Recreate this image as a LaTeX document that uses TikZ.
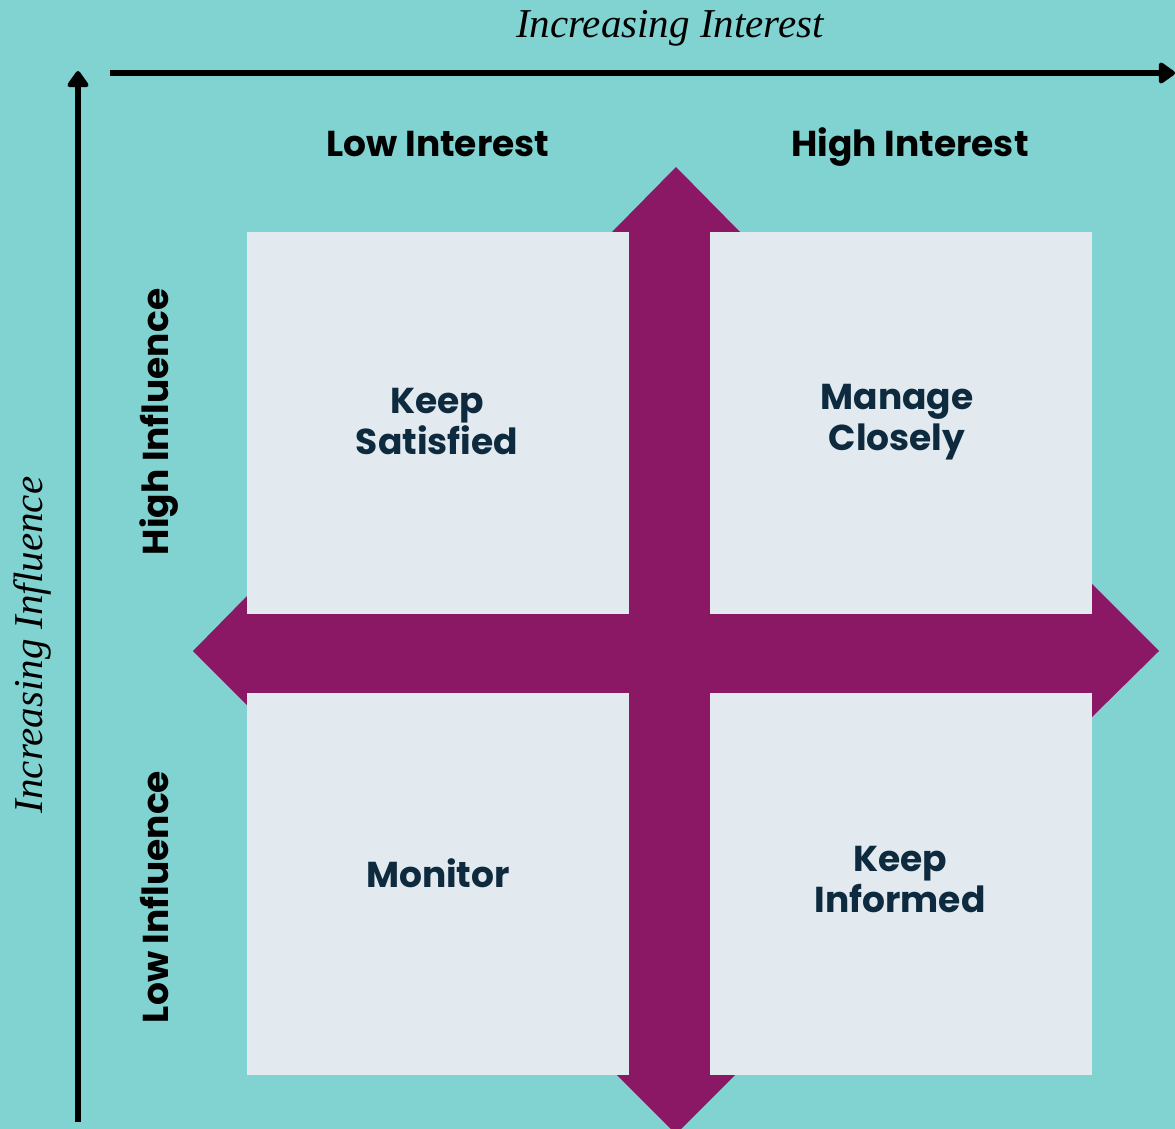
\documentclass[tikz,border=0pt]{standalone}
\usepackage{fontspec}
\usetikzlibrary{arrows.meta,positioning}
\newfontfamily\popfont{Poppins}
\newfontfamily\axisfont{Liberation Serif}
\definecolor{bgteal}{HTML}{81D3D2}
\definecolor{boxgrey}{HTML}{E2E9EF}
\definecolor{crossplum}{HTML}{8B1864}
\definecolor{inknavy}{HTML}{0E2A3F}

\begin{document}
\begin{tikzpicture}[x=1pt,y=-1pt,
    axis/.style={line width=6pt,-{Triangle[width=24pt,length=18pt,round]}},
    axistitle/.style={font=\axisfont\itshape\fontsize{41}{44}\selectfont,anchor=base,inner sep=0pt},
    heading/.style={font=\popfont\bfseries\fontsize{36}{40}\selectfont,anchor=base,inner sep=0pt},
    quad/.style={fill=boxgrey,minimum size=382pt,inner sep=0pt},
    quadlabel/.style={font=\popfont\bfseries\fontsize{36}{41}\selectfont,text=inknavy,align=center,inner sep=0pt}]
    \fill[bgteal] (0,0) rectangle (1175,1129);
    \useasboundingbox (0,0) rectangle (1175,1129);
    % axes
    \coordinate (y_0) at (78,1122);
    \coordinate (y_1) at (78,71);
    \coordinate (x_0) at (110,73);
    \coordinate (x_1) at (1175,73);
    \draw[axis] (y_0) -- (y_1);
    \draw[axis] (x_0) -- (x_1);
    \node[axistitle] (x_title) at (670,38) {Increasing Interest};
    \node[axistitle,rotate=90] (y_title) at (42,645) {Increasing Influence};
    % cross
    \fill[crossplum] (629,232) -- (612,232) -- (676,167) -- (740,232) -- (710,232)
        -- (710,1075) -- (735,1075) -- (676,1134) -- (617,1075) -- (629,1075) -- cycle;
    \fill[crossplum] (247,614) -- (247,596) -- (193,651) -- (247,705) -- (247,693)
        -- (1092,693) -- (1092,717) -- (1159,651) -- (1092,584) -- (1092,614) -- cycle;
    % quadrants
    \node[quad] (q_tl) at (438,423) {};
    \node[quad] (q_tr) at (901,423) {};
    \node[quad] (q_bl) at (438,884) {};
    \node[quad] (q_br) at (901,884) {};
    \node[quadlabel] (keep_sat) at (437,422) {Keep\\Satisfied};
    \node[quadlabel] (manage) at (897,422) {Manage\\Closely};
    \node[quadlabel] (monitor) at (438,873) {Monitor};
    \node[quadlabel] (keep_inf) at (900,879) {Keep\\Informed};
    % headings
    \node[heading] (low_int) at (438,157) {Low Interest};
    \node[heading] (high_int) at (910,157) {High Interest};
    \node[heading,rotate=90] (high_inf) at (168,422) {High Influence};
    \node[heading,rotate=90] (low_inf) at (168,897) {Low Influence};
\end{tikzpicture}
\end{document}
